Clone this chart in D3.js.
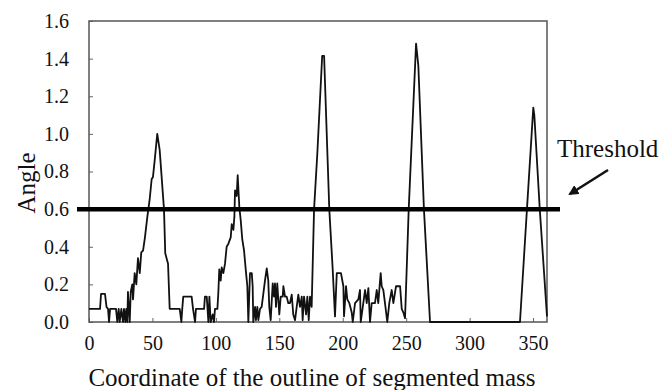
<!DOCTYPE html>
<html>
<head>
<meta charset="utf-8">
<script src="https://cdn.jsdelivr.net/npm/d3@7"></script>
<style>
  body { margin: 0; background: #fff; }
  svg text { font-family: "Liberation Serif", "Times New Roman", serif; fill: #111; }
</style>
</head>
<body>
<svg id="chart" width="672" height="390"></svg>
<script>
// coordinate along the outline, and the angle read at that point
var coordX = [0, 8.7, 9.5, 12.6, 13.8, 15, 15.8, 16.6, 21.3, 22.3, 23.4, 24.2, 25.5, 26.8, 27.6, 28.6, 29.4, 30.2, 30.7, 32.1,
  32.9, 34.1, 34.7, 36, 37.3, 38.6, 40, 41.2, 42.6, 44.1, 46, 47.8, 49.4, 50.4, 51.8, 53.8, 55.7, 59.1, 60.1, 62.3,
  63.6, 71.5, 72.8, 73.5, 74.3, 80.9, 82, 83.6, 84.3, 90.7, 91.4, 92.8, 94.1, 94.9, 95.9, 97.5, 98.5, 99.3, 101.2, 101.9,
  102.7, 103.8, 104.6, 105.9, 107.2, 108.5, 109.8, 111.7, 112.5, 113.8, 114.6, 115.1, 116.4, 117.2, 118.5, 119.6, 120.8, 122.2, 123.8, 124.8,
  125.6, 126.9, 128.3, 129, 129.5, 130.9, 131.6, 132.7, 133.5, 134.8, 136.1, 137.4, 138.7, 140.1, 141.3, 142.1, 143.2, 144.8, 145.8, 146.6,
  147.4, 148.4, 150, 151.1, 152.7, 153.2, 154.5, 155.8, 157.1, 158.4, 159.8, 161, 162.4, 163.7, 165, 166.3, 167.7, 168.4, 169.5, 171.1,
  172.1, 173.2, 174.2, 175.5, 177.4, 180, 183.8, 185.3, 189.4, 192, 193.9, 195.3, 198.6, 200.5, 201, 202.6, 203.6, 205.2, 207.1, 207.9,
  209.7, 212.3, 213.6, 214.2, 216.2, 217.6, 218.9, 220.2, 221.5, 222.8, 225.4, 226.8, 228, 229.9, 230.7, 232, 233.3, 235.1, 236.7, 238.6,
  239.9, 242, 245.2, 246.5, 247.8, 249.1, 252, 257.8, 259.6, 264, 268.8, 339.7, 345.2, 350.2, 351, 355.3, 361];
var angle = [0.07, 0.07, 0.15, 0.15, 0.08, 0.07, 0, 0.07, 0.07, 0, 0.07, 0, 0.07, 0, 0.07, 0, 0.07, 0, 0.16, 0,
  0.16, 0.2, 0.12, 0.26, 0.2, 0.34, 0.26, 0.37, 0.38, 0.45, 0.56, 0.65, 0.76, 0.77, 0.86, 1.0, 0.915, 0.6, 0.365, 0.31,
  0.07, 0.07, 0, 0.07, 0.135, 0.135, 0.07, 0, 0.07, 0.07, 0.135, 0.135, 0, 0.135, 0, 0.04, 0, 0.07, 0.07, 0.15,
  0.28, 0.22, 0.29, 0.26, 0.31, 0.4, 0.415, 0.45, 0.52, 0.49, 0.56, 0.7, 0.67, 0.78, 0.61, 0.54, 0.44, 0.38, 0.26, 0.19,
  0, 0.26, 0.26, 0.19, 0, 0.08, 0.01, 0.08, 0.01, 0.07, 0.08, 0.15, 0.22, 0.285, 0.22, 0.08, 0.01, 0.205, 0.135, 0.205,
  0.08, 0.205, 0.04, 0.135, 0.135, 0.19, 0.135, 0.135, 0.1, 0.1, 0.145, 0.04, 0.01, 0.08, 0.145, 0.08, 0.135, 0.01, 0.135, 0.04,
  0.135, 0.01, 0.135, 0.08, 0.6, 0.9, 1.415, 1.415, 0.6, 0.29, 0.03, 0.26, 0.26, 0.19, 0.03, 0.19, 0.12, 0.1, 0.05, 0,
  0.1, 0.12, 0.17, 0, 0.1, 0.17, 0.1, 0.18, 0, 0.1, 0.1, 0.17, 0.1, 0.26, 0.19, 0.17, 0.1, 0, 0.1, 0.17,
  0.1, 0.19, 0.19, 0.07, 0.05, 0.02, 0.6, 1.48, 1.36, 0.6, 0, 0, 0.6, 1.14, 1.1, 0.6, 0.03];

var xTicks = [0, 50, 100, 150, 200, 250, 300, 350];
var yTicks = [0, 0.2, 0.4, 0.6, 0.8, 1.0, 1.2, 1.4, 1.6];
var thresholdValue = 0.6;

var serif = '"Liberation Serif", "Times New Roman", serif';
var svg = d3.select("#chart");
var plotLeft = 89, plotRight = 547, plotTop = 21, plotBottom = 322;

var x = d3.scaleLinear().domain([0, 361]).range([plotLeft, plotRight]);
var y = d3.scaleLinear().domain([0, 1.6]).range([plotBottom, plotTop]);

var points = coordX.map(function(c, i){ return [c, angle[i]]; });

// axes, ticks pointing into the plot
var xAxis = svg.append("g")
    .attr("transform", "translate(0," + plotBottom + ")")
    .call(d3.axisBottom(x).tickValues(xTicks).tickSize(-4).tickPadding(14));
var yAxis = svg.append("g")
    .attr("transform", "translate(" + plotLeft + ",0)")
    .call(d3.axisLeft(y).tickValues(yTicks).tickSize(-4).tickPadding(20).tickFormat(d3.format(".1f")));

[xAxis, yAxis].forEach(function(a){
    a.attr("font-family", serif);
    a.select(".domain").remove();
    a.selectAll("line").attr("stroke", "#666").attr("stroke-width", 1);
    a.selectAll("text")
        .style("font-family", serif)
        .style("font-size", "20px")
        .attr("fill", "#111");
});

svg.append("rect")
    .attr("x", plotLeft).attr("y", plotTop)
    .attr("width", plotRight - plotLeft).attr("height", plotBottom - plotTop)
    .attr("fill", "none")
    .attr("stroke", "#555")
    .attr("stroke-width", 1.5);

var line = d3.line()
    .x(function(d){ return x(d[0]); })
    .y(function(d){ return y(d[1]); });

svg.append("path")
    .datum(points)
    .attr("d", line)
    .attr("fill", "none")
    .attr("stroke", "#111")
    .attr("stroke-width", 1.8)
    .attr("stroke-linejoin", "round");

// threshold line runs a little past the box on both sides
svg.append("line")
    .attr("x1", plotLeft - 12).attr("x2", plotRight + 13)
    .attr("y1", y(thresholdValue)).attr("y2", y(thresholdValue))
    .attr("stroke", "#000")
    .attr("stroke-width", 4.5);

svg.append("defs").append("marker")
    .attr("id", "head")
    .attr("viewBox", "0 0 10 10")
    .attr("refX", 8).attr("refY", 5)
    .attr("markerWidth", 4).attr("markerHeight", 4)
    .attr("orient", "auto")
    .append("path")
    .attr("d", "M0,0 L10,5 L0,10 z")
    .attr("fill", "#111");

svg.append("line")
    .attr("x1", 608).attr("y1", 170)
    .attr("x2", 570).attr("y2", 194)
    .attr("stroke", "#111")
    .attr("stroke-width", 2.6)
    .attr("marker-end", "url(#head)");

svg.append("text")
    .attr("x", 557).attr("y", 157)
    .style("font-size", "25px")
    .text("Threshold");

svg.append("text")
    .attr("x", 312).attr("y", 386)
    .attr("text-anchor", "middle")
    .style("font-size", "25px")
    .text("Coordinate of the outline of segmented mass");

svg.append("text")
    .attr("transform", "translate(35,183) rotate(-90)")
    .attr("text-anchor", "middle")
    .style("font-size", "25px")
    .text("Angle");
</script>
</body>
</html>
